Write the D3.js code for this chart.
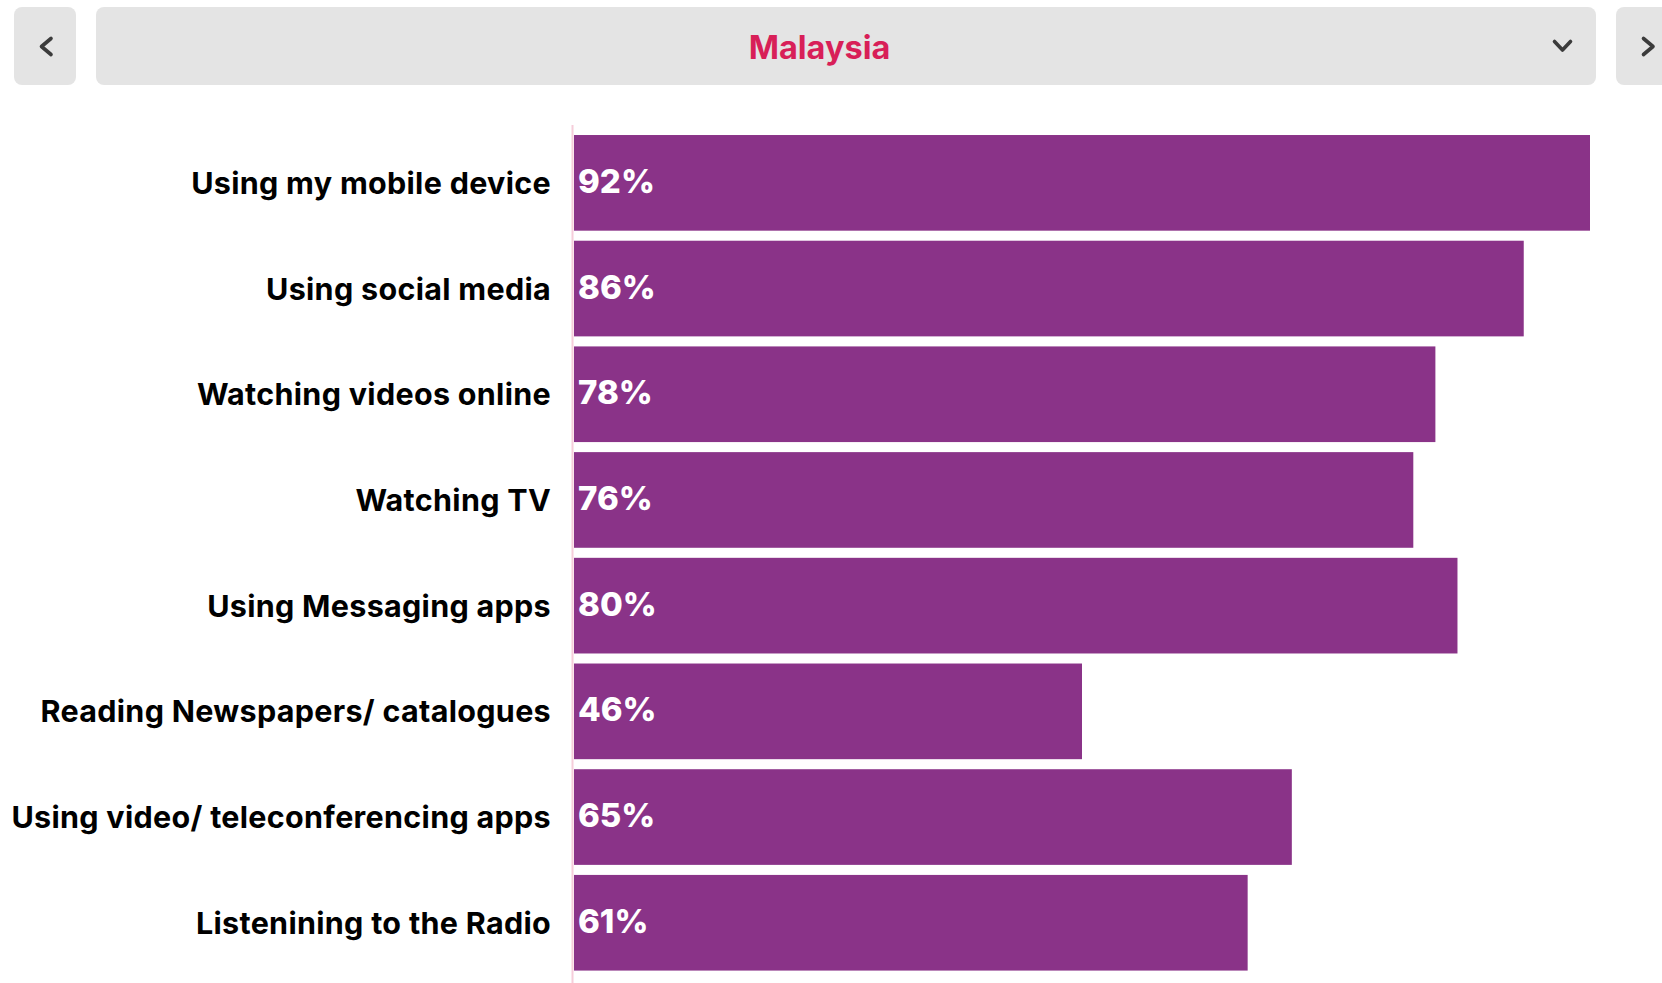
<!DOCTYPE html>
<html>
<head>
<meta charset="utf-8">
<script src="https://cdn.jsdelivr.net/npm/d3@7/dist/d3.min.js"></script>
<style>
  html, body { margin: 0; padding: 0; background: #ffffff; }
  svg { display: block; }
</style>
</head>
<body>
<svg id="chart" width="1662" height="983"></svg>
<script>
// Share of respondents by activity (Malaysia)
const country = "Malaysia";
const categories = [
  "Using my mobile device",
  "Using social media",
  "Watching videos online",
  "Watching TV",
  "Using Messaging apps",
  "Reading Newspapers/ catalogues",
  "Using video/ teleconferencing apps",
  "Listenining to the Radio"
];
const values = [92, 86, 78, 76, 80, 46, 65, 61];

const W = 1662, H = 983;
const svg = d3.select("#chart");
const FONT = "Inter, 'Open Sans', sans-serif";

// --- header: previous button, country selector, next button ---
const header = svg.append("g");
header.append("rect").attr("x", 14).attr("y", 7).attr("width", 62).attr("height", 78)
  .attr("rx", 8).attr("fill", "#e4e4e4");
header.append("rect").attr("x", 96).attr("y", 7).attr("width", 1500).attr("height", 78)
  .attr("rx", 8).attr("fill", "#e4e4e4");
header.append("rect").attr("x", 1616).attr("y", 7).attr("width", 62).attr("height", 78)
  .attr("rx", 8).attr("fill", "#e4e4e4");

const chevron = (pts) => header.append("path")
  .attr("d", d3.line()(pts))
  .attr("fill", "none").attr("stroke", "#3b3b3b")
  .attr("stroke-width", 3.6).attr("stroke-linecap", "round").attr("stroke-linejoin", "round");
chevron([[51, 38.5], [41.5, 46.5], [51, 54.5]]);
chevron([[1554.5, 41.5], [1562.5, 50], [1570.5, 41.5]]);
chevron([[1643.5, 38.5], [1653, 46.5], [1643.5, 54.5]]);

header.append("text")
  .attr("x", 819.5).attr("y", 59)
  .attr("text-anchor", "middle")
  .attr("font-family", FONT).attr("font-weight", 700).attr("font-size", 32.5)
  .attr("fill", "#d81f58")
  .text(country);

// --- bars ---
const x = d3.scaleLinear()
  .domain([0, d3.max(values)])
  .range([574, 1590]);

const y = d3.scaleBand()
  .domain(categories)
  .range([130, 975.6])
  .paddingInner(0.095)
  .paddingOuter(0.0475);

svg.append("line")
  .attr("x1", 572.5).attr("x2", 572.5)
  .attr("y1", 125).attr("y2", H)
  .attr("stroke", "#f6cdda").attr("stroke-width", 2);

const rows = svg.append("g").selectAll("g")
  .data(categories.map((c, i) => ({ cat: c, val: values[i] })))
  .join("g");

rows.append("rect")
  .attr("x", x(0))
  .attr("y", d => y(d.cat))
  .attr("width", d => x(d.val) - x(0))
  .attr("height", y.bandwidth())
  .attr("fill", "#8a3388");

rows.append("text")
  .attr("x", 551)
  .attr("y", d => y(d.cat) + y.bandwidth() / 2 + 11)
  .attr("text-anchor", "end")
  .attr("font-family", FONT).attr("font-weight", 700).attr("font-size", 30.5)
  .attr("letter-spacing", 0.3)
  .attr("fill", "#000000")
  .text(d => d.cat);

rows.append("text")
  .attr("x", 578)
  .attr("y", d => y(d.cat) + y.bandwidth() / 2 + 10)
  .attr("font-family", FONT).attr("font-weight", 800).attr("font-size", 33)
  .attr("fill", "#ffffff")
  .text(d => d.val + "%");
</script>
</body>
</html>
